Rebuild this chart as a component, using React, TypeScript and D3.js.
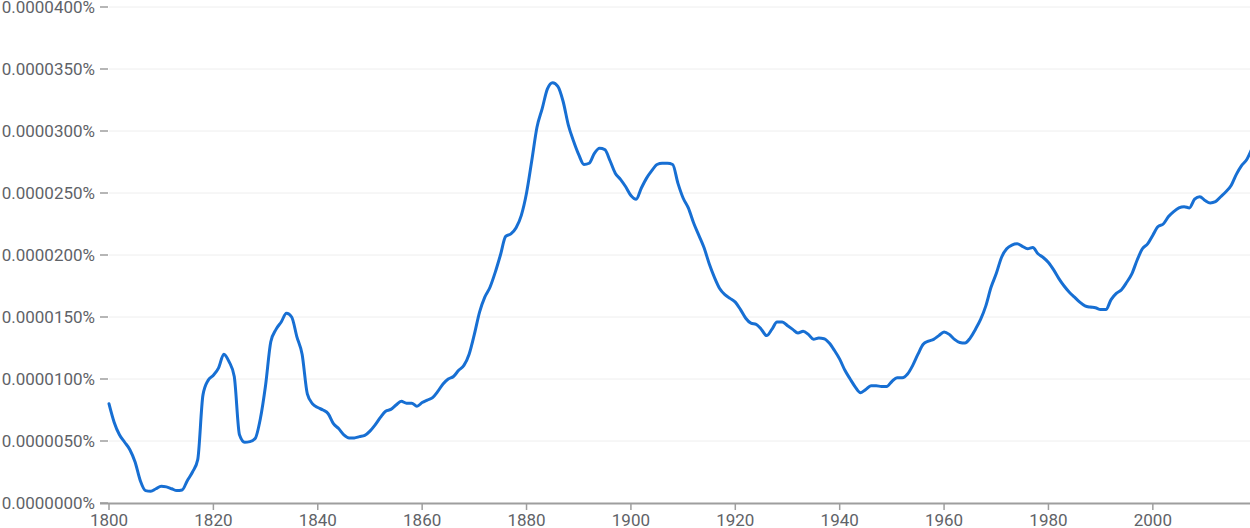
import { useMemo } from 'react'
import * as d3 from 'd3'

const WIDTH = 1250
const HEIGHT = 528
const MARGIN = { top: 7, right: -2, bottom: 25, left: 109 }

// years shown on the chart
const YEARS = d3.range(1800, 2020)

// values in millionths of a percent (1 = 0.0000010%)
const VALUES = [
  8.0, 6.5, 5.5, 4.9, 4.3, 3.3, 1.8, 1.0, 0.95, 1.15,
  1.35, 1.3, 1.15, 1.0, 1.05, 1.8, 2.5, 3.5, 8.7, 9.9,
  10.3, 10.9, 12.0, 11.4, 10.2, 5.5, 4.9, 4.95, 5.2, 6.8,
  9.5, 13.0, 14.0, 14.6, 15.3, 15.0, 13.4, 12.0, 8.8, 8.0,
  7.7, 7.5, 7.2, 6.4, 6.0, 5.5, 5.25, 5.25, 5.35, 5.45,
  5.8, 6.3, 6.9, 7.4, 7.55, 7.9, 8.2, 8.05, 8.05, 7.8,
  8.1, 8.3, 8.5, 9.0, 9.6, 10.0, 10.2, 10.7, 11.1, 12.0,
  13.6, 15.4, 16.6, 17.4, 18.6, 20.0, 21.5, 21.7, 22.2, 23.2,
  25.0, 27.6, 30.3, 31.8, 33.4, 33.9, 33.6, 32.4, 30.5, 29.2,
  28.1, 27.3, 27.4, 28.2, 28.6, 28.5, 27.6, 26.6, 26.1, 25.5,
  24.8, 24.5, 25.4, 26.2, 26.8, 27.3, 27.4, 27.4, 27.3, 25.8,
  24.6, 23.8, 22.6, 21.6, 20.6, 19.3, 18.2, 17.3, 16.8, 16.5,
  16.2, 15.6, 14.9, 14.5, 14.4, 14.0, 13.5, 14.0, 14.6, 14.6,
  14.3, 14.0, 13.7, 13.85, 13.6, 13.2, 13.3, 13.25, 12.9, 12.3,
  11.6, 10.7, 10.0, 9.35, 8.9, 9.15, 9.45, 9.45, 9.4, 9.4,
  9.8, 10.1, 10.1, 10.4, 11.1, 12.0, 12.8, 13.05, 13.2, 13.5,
  13.8, 13.6, 13.2, 12.95, 12.9, 13.3, 14.0, 14.8, 15.9, 17.4,
  18.5, 19.8, 20.5, 20.8, 20.9, 20.7, 20.5, 20.6, 20.1, 19.8,
  19.4, 18.8, 18.1, 17.5, 17.0, 16.6, 16.2, 15.9, 15.8, 15.75,
  15.6, 15.6, 16.4, 16.9, 17.2, 17.8, 18.5, 19.6, 20.5, 20.9,
  21.6, 22.3, 22.5, 23.1, 23.5, 23.8, 23.9, 23.8, 24.5, 24.7,
  24.4, 24.2, 24.3, 24.7, 25.1, 25.6, 26.5, 27.2, 27.7, 28.6,
]

const Y_TICKS = [0, 5, 10, 15, 20, 25, 30, 35, 40]
const X_TICKS = [1800, 1820, 1840, 1860, 1880, 1900, 1920, 1940, 1960, 1980, 2000]

const LINE_COLOR = '#176fd3'
const TEXT_COLOR = '#5f6368'
const AXIS_COLOR = '#9e9e9e'
const GRID_COLOR = '#eeeeee'

const formatTick = (d: number) => `${(d / 1e6).toFixed(7)}%`

export default function App() {
  const boundsWidth = WIDTH - MARGIN.left - MARGIN.right
  const boundsHeight = HEIGHT - MARGIN.top - MARGIN.bottom

  const data = useMemo(() => YEARS.map((year, i) => ({ year, value: VALUES[i] })), [])

  const xScale = useMemo(
    () => d3.scaleLinear().domain([1800, 2019]).range([0, boundsWidth]),
    [boundsWidth]
  )
  const yScale = useMemo(
    () => d3.scaleLinear().domain([0, 40]).range([boundsHeight, 0]),
    [boundsHeight]
  )

  const linePath = d3
    .line<{ year: number; value: number }>()
    .x((d) => xScale(d.year))
    .y((d) => yScale(d.value))
    .curve(d3.curveMonotoneX)(data)

  return (
    <svg
      width={WIDTH}
      height={HEIGHT}
      style={{ position: 'fixed', top: 0, left: 0, background: '#fff' }}
      fontFamily="Roboto, sans-serif"
    >
      <g transform={`translate(${MARGIN.left},${MARGIN.top})`}>
        {/* grid + y ticks */}
        {Y_TICKS.map((t) => (
          <g key={t} transform={`translate(0,${yScale(t)})`}>
            {t > 0 && <line x1={0} x2={boundsWidth} stroke={GRID_COLOR} strokeWidth={1} />}
            <line x1={-9} x2={-1} stroke={AXIS_COLOR} strokeWidth={1.5} />
            <text
              x={-14}
              textAnchor="end"
              dominantBaseline="central"
              fontSize={17}
              fill={TEXT_COLOR}
            >
              {formatTick(t)}
            </text>
          </g>
        ))}

        {/* x axis */}
        <line
          x1={-9}
          x2={boundsWidth}
          y1={boundsHeight + 0.5}
          y2={boundsHeight + 0.5}
          stroke={AXIS_COLOR}
          strokeWidth={2}
        />
        {X_TICKS.map((t) => (
          <g key={t} transform={`translate(${xScale(t)},${boundsHeight})`}>
            <line y1={0} y2={7} stroke={AXIS_COLOR} strokeWidth={1.5} />
            <text y={17} textAnchor="middle" dominantBaseline="central" fontSize={17} fill={TEXT_COLOR}>
              {t}
            </text>
          </g>
        ))}

        <path
          d={linePath ?? ''}
          fill="none"
          stroke={LINE_COLOR}
          strokeWidth={3}
          strokeLinejoin="round"
          strokeLinecap="round"
        />
      </g>
    </svg>
  )
}
